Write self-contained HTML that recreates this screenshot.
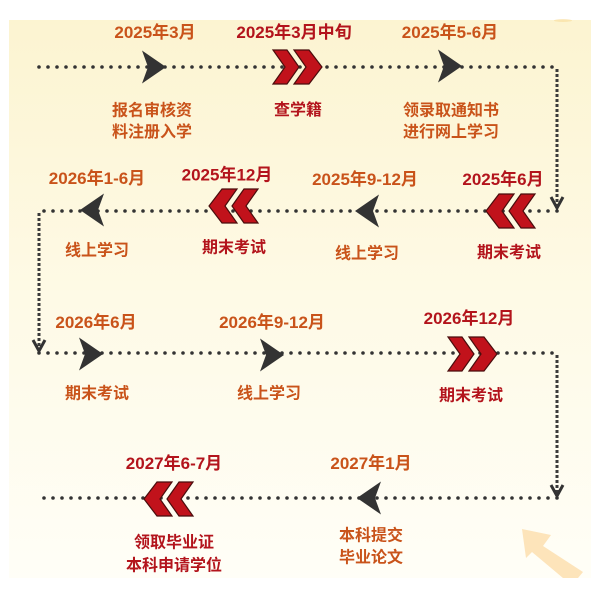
<!DOCTYPE html>
<html><head><meta charset="utf-8"><style>
html,body{margin:0;padding:0;background:#fff;}
svg{display:block;}
text{font-family:"Liberation Sans","Noto Sans CJK SC",sans-serif;font-weight:bold;}
.o{fill:#c9531a;font-size:17px;}
.r{fill:#b3141c;font-size:17px;}
.ol{fill:#c9531a;font-size:16px;}
.rl{fill:#b3141c;font-size:16px;}
</style></head><body>
<svg width="600" height="600" viewBox="0 0 600 600" xmlns="http://www.w3.org/2000/svg">
<defs>
<linearGradient id="bg" x1="0" y1="0" x2="0" y2="1">
<stop offset="0" stop-color="#fcf4d1"/>
<stop offset="0.5" stop-color="#fefae6"/>
<stop offset="1" stop-color="#fffef7"/>
</linearGradient>
<g id="chev">
<polygon points="0,-17 14,-17 26,0 14,17 0,17 12,0" fill="#c1121b" stroke="#4a0d0d" stroke-width="1.2" stroke-linejoin="miter"/>
<polygon points="21,-17 36,-17 49,0 36,17 21,17 33,0" fill="#c1121b" stroke="#4a0d0d" stroke-width="1.2" stroke-linejoin="miter"/>
</g>
<polygon id="dart" points="0,-16.5 24,0 0,16.5 6,0" fill="#333"/>
</defs>
<rect x="0" y="0" width="600" height="600" fill="#fff"/>
<rect x="9" y="20" width="582" height="558" fill="url(#bg)"/>
<ellipse cx="563" cy="20.5" rx="9" ry="1.5" fill="#f8dc9a" opacity="0.6"/>

<!-- light arrow bottom right -->
<polygon points="522,529 551,535 543,546 583,572 578,578 563,578 532,552 526,558" fill="#fde4ba"/>

<!-- dotted horizontal lines -->
<g stroke="#333" stroke-width="3.6" stroke-linecap="round" stroke-dasharray="0 9">
<line x1="39" y1="67" x2="557" y2="67"/>
<line x1="557" y1="211" x2="39" y2="211"/>
<line x1="39" y1="353" x2="557" y2="353"/>
<line x1="557" y1="498" x2="39" y2="498"/>
</g>
<!-- vertical dashed -->
<g stroke="#3a3a3a" stroke-width="3" stroke-dasharray="3 2" fill="none">
<line x1="557" y1="69" x2="557" y2="208"/>
<line x1="39" y1="213" x2="39" y2="350"/>
<line x1="557" y1="355" x2="557" y2="495"/>
</g>
<g stroke="#333" stroke-width="3" fill="none" stroke-linejoin="miter">
<polyline points="551,197 557,208 563,197"/>
<polyline points="33,340 39,351 45,340"/>
<polyline points="551,485 557,496 563,485"/>
</g>

<!-- dark darts -->
<use href="#dart" transform="translate(142,67)"/>
<use href="#dart" transform="translate(438,66)"/>
<use href="#dart" transform="translate(379,211) scale(-1,1)"/>
<use href="#dart" transform="translate(104,210) scale(-1,1)"/>
<use href="#dart" transform="translate(79,354)"/>
<use href="#dart" transform="translate(260,355)"/>
<use href="#dart" transform="translate(381,498) scale(-1,1)"/>

<!-- red chevrons -->
<use href="#chev" transform="translate(273,67)"/>
<use href="#chev" transform="translate(535,211) scale(-1,1)"/>
<use href="#chev" transform="translate(258,206) scale(-1,1)"/>
<use href="#chev" transform="translate(448,354)"/>
<use href="#chev" transform="translate(193,499) scale(-1,1)"/>

<!-- row 1 text -->
<text class="o" x="155" y="38" text-anchor="middle">2025年3月</text>
<text class="r" x="294" y="38" text-anchor="middle">2025年3月中旬</text>
<text class="o" x="450" y="38" text-anchor="middle">2025年5-6月</text>
<text class="ol" x="152" y="115.5" text-anchor="middle">报名审核资</text>
<text class="ol" x="152" y="137" text-anchor="middle">料注册入学</text>
<text class="rl" x="298" y="115" text-anchor="middle">查学籍</text>
<text class="ol" x="451" y="115.5" text-anchor="middle">领录取通知书</text>
<text class="ol" x="451" y="137" text-anchor="middle">进行网上学习</text>

<!-- row 2 text -->
<text class="o" x="97" y="184" text-anchor="middle">2026年1-6月</text>
<text class="r" x="227" y="180.5" text-anchor="middle">2025年12月</text>
<text class="o" x="365" y="185" text-anchor="middle">2025年9-12月</text>
<text class="r" x="503" y="185" text-anchor="middle">2025年6月</text>
<text class="ol" x="97" y="255.5" text-anchor="middle">线上学习</text>
<text class="rl" x="234" y="252.5" text-anchor="middle">期末考试</text>
<text class="ol" x="367" y="258.5" text-anchor="middle">线上学习</text>
<text class="rl" x="509" y="257.5" text-anchor="middle">期末考试</text>

<!-- row 3 text -->
<text class="o" x="96" y="328" text-anchor="middle">2026年6月</text>
<text class="o" x="272" y="328" text-anchor="middle">2026年9-12月</text>
<text class="r" x="469" y="324" text-anchor="middle">2026年12月</text>
<text class="ol" x="97" y="398.5" text-anchor="middle">期末考试</text>
<text class="ol" x="269" y="398.5" text-anchor="middle">线上学习</text>
<text class="rl" x="471" y="400.5" text-anchor="middle">期末考试</text>

<!-- row 4 text -->
<text class="r" x="174" y="469" text-anchor="middle">2027年6-7月</text>
<text class="o" x="371" y="469" text-anchor="middle">2027年1月</text>
<text class="rl" x="174" y="547.5" text-anchor="middle">领取毕业证</text>
<text class="rl" x="174" y="570.5" text-anchor="middle">本科申请学位</text>
<text class="ol" x="371" y="540.5" text-anchor="middle">本科提交</text>
<text class="ol" x="371" y="562.5" text-anchor="middle">毕业论文</text>
</svg>
</body></html>
